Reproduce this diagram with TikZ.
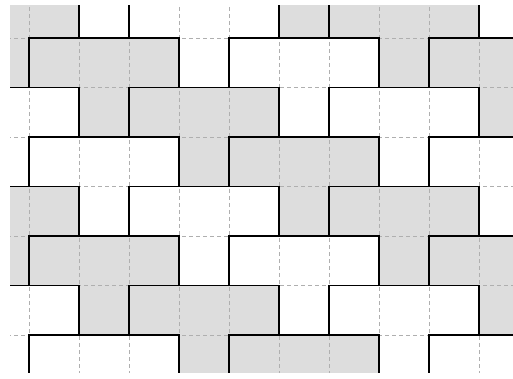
\documentclass[tikz,border=0pt]{standalone}
\definecolor{cellgray}{RGB}{221,221,221}
\definecolor{gridgray}{RGB}{175,175,175}
\tikzset{
  gridline/.style={draw=gridgray, line width=0.8pt, dash pattern=on 4pt off 3pt},
  wall/.style={draw=black, line width=1.7pt, line cap=rect},
  cellfill/.style={fill=cellgray}
}
\begin{document}
\begin{tikzpicture}[x=1pt,y=-1pt]
\useasboundingbox (0,0) rectangle (513,379);
\begin{scope}
\clip (10,6) rectangle (513,372);
% shaded cells
\foreach \r/\cols in {-1/{-1,0,5,6,7,8}, 0/{-1,0,1,2,7,8,9}, 1/{1,2,3,4,9}, 2/{3,4,5,6},
                      3/{-1,0,5,6,7,8}, 4/{-1,0,1,2,7,8,9}, 5/{1,2,3,4,9}, 6/{3,4,5,6}}{
  \foreach \c in \cols {
    \fill[cellfill] ({29.3+50*\c},{38+49.5*\r}) rectangle ({79.3+50*\c},{87.5+49.5*\r});
  }
}
% dashed grid
\foreach \k in {-1,...,9} {
  \draw[gridline] ({29.3+50*\k},0) -- ({29.3+50*\k},379);
}
\foreach \j in {0,...,6} {
  \draw[gridline] (0,{38+49.5*\j}) -- (513,{38+49.5*\j});
}
% solid vertical walls
\foreach \r in {-1,1,3,5} {
  \foreach \k in {1,2,5,6,9} {
    \draw[wall] ({29.3+50*\k},{38+49.5*\r}) -- ({29.3+50*\k},{87.5+49.5*\r});
  }
}
\foreach \r in {0,2,4,6} {
  \foreach \k in {0,3,4,7,8} {
    \draw[wall] ({29.3+50*\k},{38+49.5*\r}) -- ({29.3+50*\k},{87.5+49.5*\r});
  }
}
% solid horizontal walls
\foreach \j in {0,2,4,6} {
  \foreach \a/\b in {0/3,4/7,8/10} {
    \draw[wall] ({29.3+50*\a},{38+49.5*\j}) -- ({29.3+50*\b},{38+49.5*\j});
  }
}
\foreach \j in {1,3,5} {
  \foreach \a/\b in {-1/1,2/5,6/9} {
    \draw[wall] ({29.3+50*\a},{38+49.5*\j}) -- ({29.3+50*\b},{38+49.5*\j});
  }
}
\end{scope}
\end{tikzpicture}
\end{document}
